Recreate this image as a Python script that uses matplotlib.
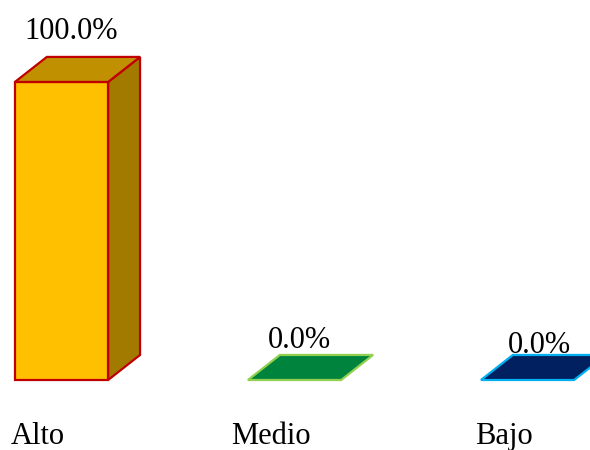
import matplotlib
matplotlib.use('Agg')
import matplotlib.pyplot as plt
from matplotlib.patches import Polygon

plt.rcParams['font.family'] = ['Liberation Serif', 'DejaVu Serif']

categories = ['Alto', 'Medio', 'Bajo']
values = [100.0, 0.0, 0.0]
labels = ['100.0%', '0.0%', '0.0%']

front_colors = ['#FFC000', '#00843D', '#002060']
top_colors = ['#C09000', '#00843D', '#002060']
side_colors = ['#A37A00', '#00843D', '#002060']
edge_colors = ['#C00000', '#92D050', '#00B0F0']

width = 0.4
dx = 0.137   # depth offset in x (category units)
dy = 8.4     # depth offset in y (percent units)

fig = plt.figure(figsize=(5.9, 4.5), dpi=100)
ax = fig.add_axes([0, 0, 1, 1])
ax.set_xlim(-0.264, 2.268)
ax.set_ylim(-23.49, 127.5)
ax.axis('off')

for i, v in enumerate(values):
    x0 = i - width / 2
    x1 = i + width / 2
    ec = edge_colors[i]
    if v > 0:
        side = Polygon([(x1, 0), (x1 + dx, dy), (x1 + dx, v + dy), (x1, v)],
                       closed=True, facecolor=side_colors[i], edgecolor=ec, lw=1.6)
        ax.add_patch(side)
        front = Polygon([(x0, 0), (x1, 0), (x1, v), (x0, v)],
                        closed=True, facecolor=front_colors[i], edgecolor=ec, lw=1.6)
        ax.add_patch(front)
    top = Polygon([(x0, v), (x1, v), (x1 + dx, v + dy), (x0 + dx, v + dy)],
                  closed=True, facecolor=top_colors[i], edgecolor=ec, lw=1.6)
    ax.add_patch(top)

label_dy = [8.4, 4.8, 3.1]
label_dx = [0.04, 0.02, 0.05]
for i, v in enumerate(values):
    ax.text(i + label_dx[i], v + dy + label_dy[i], labels[i], ha='center', va='center',
            fontsize=22, color='black')

for i, c in enumerate(categories):
    ax.text(i - 0.1, -18.8, c, ha='center', va='center', fontsize=22, color='black')

fig.savefig('out.png', dpi=100)
